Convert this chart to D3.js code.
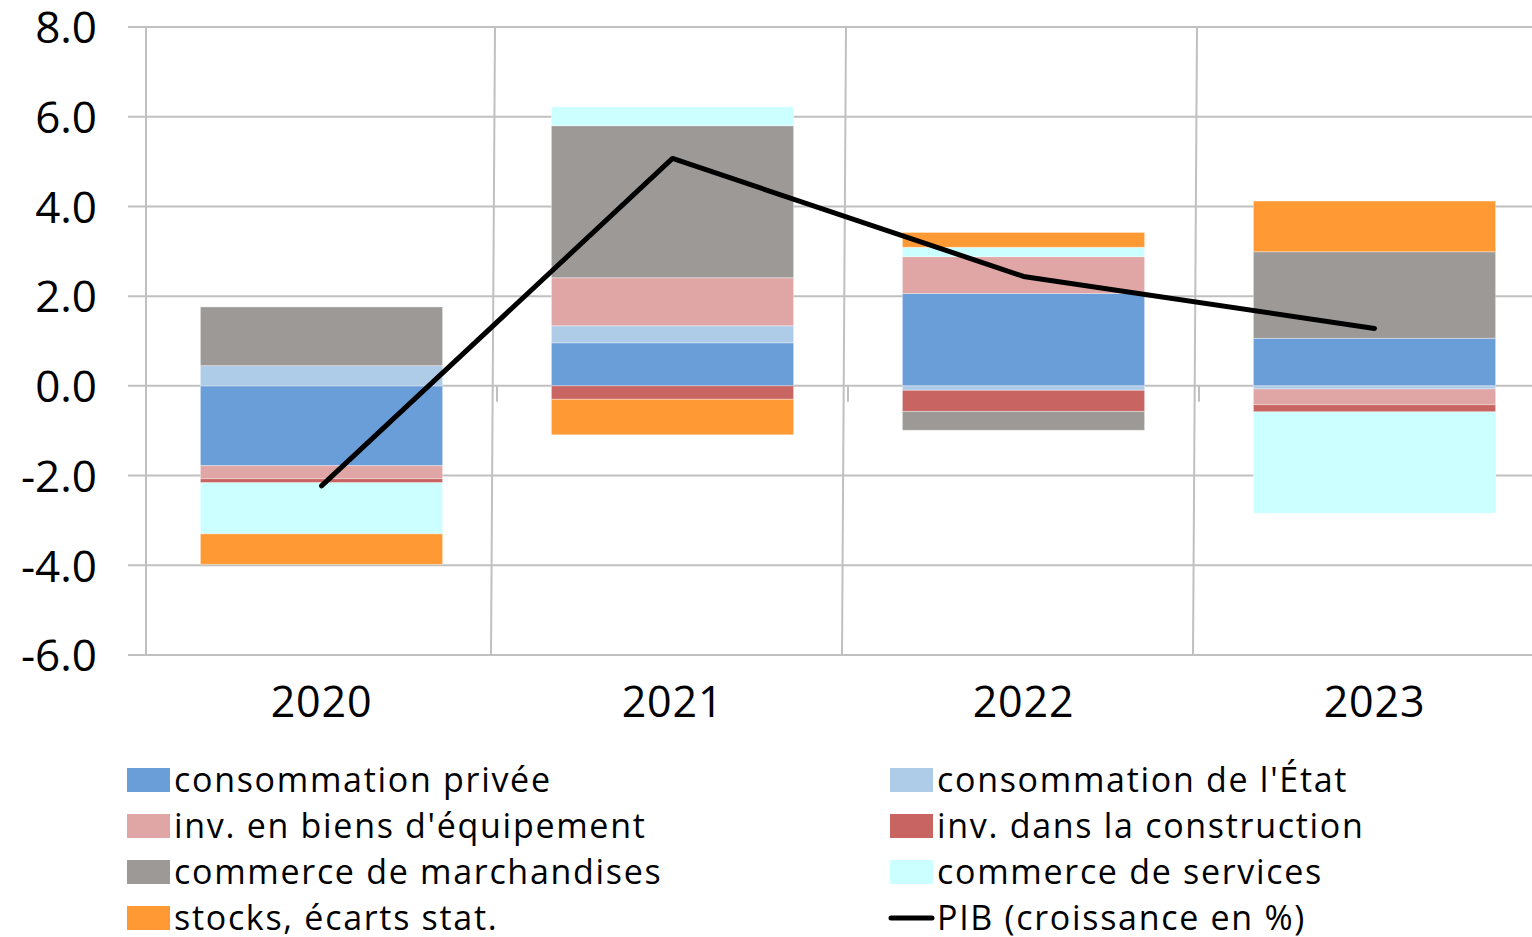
<!DOCTYPE html>
<html lang="fr">
<head>
<meta charset="utf-8">
<script src="https://cdn.jsdelivr.net/npm/d3@7"></script>
<style>
  html, body { margin: 0; padding: 0; background: #fff; }
  svg { display: block; font-family: "Open Sans", sans-serif; }
</style>
</head>
<body>
<svg id="graphique"></svg>
<script>
const largeur = 1532;
const hauteur = 937;

// données (contributions à la croissance du PIB, en points)
const annees = ["2020", "2021", "2022", "2023"];
const consoPrivee = [-1.78, 0.96, 2.06, 1.06];
const consoEtat = [0.45, 0.38, -0.10, -0.07];
const invEquipement = [-0.29, 1.07, 0.82, -0.35];
const invConstruction = [-0.09, -0.30, -0.47, -0.16];
const commerceMarch = [1.31, 3.39, -0.42, 1.93];
const commerceServices = [-1.14, 0.42, 0.21, -2.26];
const stocksEcarts = [-0.68, -0.79, 0.33, 1.13];
const pib = [-2.23, 5.07, 2.44, 1.28];
const graduations = [-6, -4, -2, 0, 2, 4, 6, 8];

const series = [
  { cle: "priv", nom: "consommation privée", valeurs: consoPrivee, couleur: "#6A9ED9" },
  { cle: "etat", nom: "consommation de l'État", valeurs: consoEtat, couleur: "#AECBE8" },
  { cle: "equip", nom: "inv. en biens d'équipement", valeurs: invEquipement, couleur: "#E0A5A5" },
  { cle: "constr", nom: "inv. dans la construction", valeurs: invConstruction, couleur: "#C86562" },
  { cle: "march", nom: "commerce de marchandises", valeurs: commerceMarch, couleur: "#9D9997" },
  { cle: "serv", nom: "commerce de services", valeurs: commerceServices, couleur: "#CCFFFF" },
  { cle: "stocks", nom: "stocks, écarts stat.", valeurs: stocksEcarts, couleur: "#FF9933" }
];

const table = annees.map((a, i) => {
  const ligne = { annee: a };
  series.forEach(s => { ligne[s.cle] = s.valeurs[i]; });
  return ligne;
});

const svg = d3.select("#graphique")
  .attr("width", largeur)
  .attr("height", hauteur);

const y = d3.scaleLinear().domain([-6, 8]).range([655, 27]);
const x = d3.scaleBand()
  .domain(annees)
  .range([146, 1550])
  .paddingInner(0.31)
  .paddingOuter(0.155);
const pas = x.step();
const centre = a => x(a) + x.bandwidth() / 2;

const grille = "#C0C0C0";

// quadrillage horizontal
svg.append("g")
  .selectAll("line")
  .data(graduations)
  .join("line")
  .attr("x1", 128)
  .attr("x2", largeur)
  .attr("y1", d => y(d))
  .attr("y2", d => y(d))
  .attr("stroke", grille)
  .attr("stroke-width", 2);

// quadrillage vertical (légèrement penché, comme l'original)
svg.append("g")
  .selectAll("line")
  .data(d3.range(1, annees.length))
  .join("line")
  .attr("x1", i => 146 + i * pas - 2)
  .attr("x2", i => 146 + i * pas - 6)
  .attr("y1", y(8))
  .attr("y2", y(-6))
  .attr("stroke", grille)
  .attr("stroke-width", 2);

// petites graduations sur l'axe zéro
svg.append("g")
  .selectAll("line")
  .data(d3.range(1, annees.length))
  .join("line")
  .attr("x1", i => 146 + i * pas)
  .attr("x2", i => 146 + i * pas)
  .attr("y1", y(0))
  .attr("y2", y(0) + 16)
  .attr("stroke", grille)
  .attr("stroke-width", 2);

svg.append("line")
  .attr("x1", 146).attr("x2", 146)
  .attr("y1", y(8)).attr("y2", y(-6))
  .attr("stroke", grille)
  .attr("stroke-width", 2);

// barres empilées
const pile = d3.stack()
  .keys(series.map(s => s.cle))
  .offset(d3.stackOffsetDiverging)(table);

svg.append("g")
  .selectAll("g")
  .data(pile)
  .join("g")
  .attr("fill", (d, i) => series[i].couleur)
  .selectAll("rect")
  .data(d => d)
  .join("rect")
  .attr("x", d => x(d.data.annee))
  .attr("width", x.bandwidth())
  .attr("y", d => y(Math.max(d[0], d[1])))
  .attr("height", d => Math.abs(y(d[0]) - y(d[1])))
  .attr("stroke", "#ffffff")
  .attr("stroke-opacity", 0.35)
  .attr("stroke-width", 1);

// ligne du PIB
const ligne = d3.line()
  .x((d, i) => centre(annees[i]))
  .y(d => y(d));

svg.append("path")
  .datum(pib)
  .attr("d", ligne)
  .attr("fill", "none")
  .attr("stroke", "#000")
  .attr("stroke-width", 5)
  .attr("stroke-linecap", "round")
  .attr("stroke-linejoin", "round");

// axe vertical
const axeY = svg.append("g")
  .attr("transform", "translate(100,0)")
  .call(d3.axisLeft(y).tickValues(graduations).tickSize(0).tickPadding(3).tickFormat(d => d.toFixed(1)));
axeY.select(".domain").remove();
axeY.selectAll("text")
  .attr("font-family", "'Open Sans', sans-serif")
  .attr("font-size", 44)
  .attr("fill", "#000")
  .attr("dy", "0.36em");

// étiquettes des années
svg.append("g")
  .selectAll("text")
  .data(annees)
  .join("text")
  .attr("x", d => centre(d))
  .attr("y", 717)
  .attr("text-anchor", "middle")
  .attr("font-size", 43)
  .attr("letter-spacing", 0.8)
  .attr("fill", "#000")
  .text(d => d);

// légende
const entrees = series.map(s => ({ nom: s.nom, couleur: s.couleur, type: "barre" }))
  .concat([{ nom: "PIB (croissance en %)", couleur: "#000", type: "ligne" }]);

const legende = svg.append("g")
  .selectAll("g")
  .data(entrees)
  .join("g")
  .attr("transform", (d, i) => `translate(${i % 2 === 0 ? 127 : 890},${768 + Math.floor(i / 2) * 46})`);

legende.filter(d => d.type === "barre")
  .append("rect")
  .attr("width", 43)
  .attr("height", 24)
  .attr("fill", d => d.couleur);

legende.filter(d => d.type === "ligne")
  .append("line")
  .attr("x1", 1).attr("x2", 42)
  .attr("y1", 12).attr("y2", 12)
  .attr("stroke", "#000")
  .attr("stroke-width", 5)
  .attr("stroke-linecap", "round");

legende.append("text")
  .attr("x", 47)
  .attr("y", 24)
  .attr("font-size", 34)
  .attr("letter-spacing", 1.7)
  .attr("fill", "#000")
  .text(d => d.nom);
</script>
</body>
</html>
